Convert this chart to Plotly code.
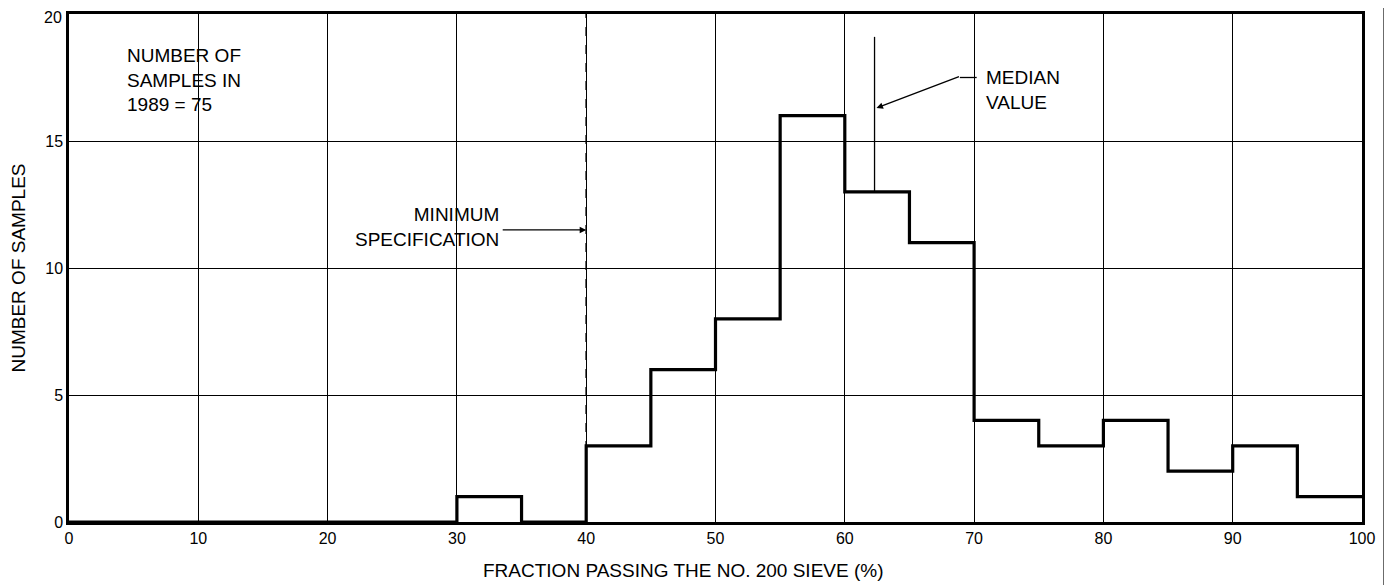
import plotly.graph_objects as go

# Data
bin_edges = [0, 5, 10, 15, 20, 25, 30, 35, 40, 45, 50, 55, 60, 65, 70, 75, 80, 85, 90, 95, 100]
counts = [0, 0, 0, 0, 0, 0, 1, 0, 3, 6, 8, 16, 13, 11, 4, 3, 4, 2, 3, 1]
x_ticks = [0, 10, 20, 30, 40, 50, 60, 70, 80, 90, 100]
y_ticks = [0, 5, 10, 15, 20]
min_spec = 40
median_value = 62.3

FONT = "Liberation Sans, Arial, Helvetica, sans-serif"

fig = go.Figure()
fig.add_trace(go.Scatter(
    x=bin_edges, y=counts + [counts[-1]],
    mode="lines", line=dict(color="black", width=3.2, shape="hv"),
    hoverinfo="skip", showlegend=False,
))

shapes = [
    dict(type="line", xref="x", yref="y", x0=min_spec, x1=min_spec, y0=0, y1=20,
         line=dict(color="black", width=1.6, dash="dash")),
    dict(type="line", xref="x", yref="y", x0=median_value, x1=median_value, y0=13, y1=19.1,
         line=dict(color="black", width=1.3)),
    dict(type="line", xref="x", yref="y", x0=68.9, x1=70.2, y0=17.5, y1=17.5,
         line=dict(color="black", width=1.3)),
    # scan edge bar at right
    dict(type="line", xref="paper", yref="paper", x0=1.0185, x1=1.0185, y0=-0.15, y1=1.03,
         line=dict(color="black", width=5)),
]

# top tick label drawn as an annotation so it stays inside the page
y_ticktext = [str(v) for v in y_ticks[:-1]] + [""]

annotations = [
    dict(x=0, y=y_ticks[-1], xref="paper", yref="y", xanchor="right", yanchor="middle",
         xshift=-5, yshift=-3, text=str(y_ticks[-1]), showarrow=False,
         font=dict(family=FONT, size=16, color="black")),
    dict(x=4.3, y=17.4, xref="x", yref="y", xanchor="left", yanchor="middle", align="left",
         text="NUMBER OF<br>SAMPLES IN<br>1989 = 75", showarrow=False,
         font=dict(family=FONT, size=19, color="black")),
    dict(x=33.4, y=11.6, xref="x", yref="y", xanchor="right", yanchor="middle", align="right",
         text="MINIMUM<br>SPECIFICATION", showarrow=False,
         font=dict(family=FONT, size=19, color="black")),
    dict(x=70.8, y=17.0, xref="x", yref="y", xanchor="left", yanchor="middle", align="left",
         text="MEDIAN<br>VALUE", showarrow=False,
         font=dict(family=FONT, size=19, color="black")),
    dict(x=min_spec, y=11.5, xref="x", yref="y", ax=-85, ay=0, text="", showarrow=True,
         arrowhead=2, arrowsize=1, arrowwidth=1.3, arrowcolor="black"),
    dict(x=median_value + 0.15, y=16.3, xref="x", yref="y", ax=84, ay=-32, text="", showarrow=True,
         arrowhead=2, arrowsize=1, arrowwidth=1.3, arrowcolor="black"),
    dict(x=0.475, y=-0.095, xref="paper", yref="paper", xanchor="center", yanchor="middle",
         text="FRACTION PASSING THE NO. 200 SIEVE (%)", showarrow=False,
         font=dict(family=FONT, size=19, color="black")),
]

fig.update_layout(
    width=1392, height=585,
    margin=dict(l=61, r=38, t=6, b=71),
    paper_bgcolor="white", plot_bgcolor="white",
    font=dict(family=FONT, size=16, color="black"),
    shapes=shapes, annotations=annotations,
    xaxis=dict(range=[0, 100], tickvals=x_ticks, showgrid=True, gridcolor="black", gridwidth=1,
               showline=True, linecolor="black", linewidth=2.5, mirror=True, ticks="",
               zeroline=False, tickfont=dict(size=16), automargin=False,
               ticklabeloverflow="allow"),
    yaxis=dict(range=[0, 20], tickvals=y_ticks, ticktext=y_ticktext,
               showgrid=True, gridcolor="black", gridwidth=1,
               showline=True, linecolor="black", linewidth=2.5, mirror=True, ticks="",
               zeroline=False, tickfont=dict(size=16), automargin=False,
               ticklabeloverflow="allow",
               title=dict(text="NUMBER OF SAMPLES", font=dict(size=19), standoff=16)),
)

fig.write_html("out.html")
